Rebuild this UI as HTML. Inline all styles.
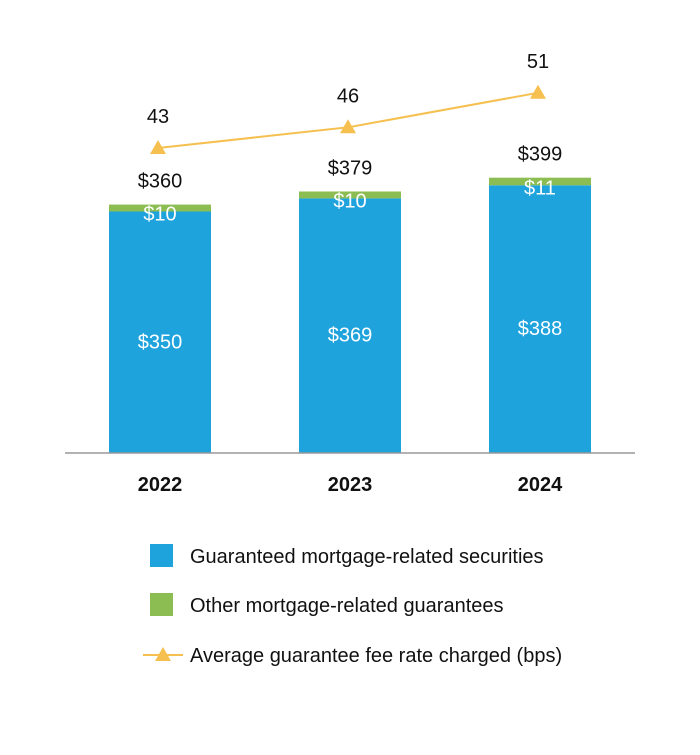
<!DOCTYPE html>
<html><head><meta charset="utf-8"><style>
html,body{margin:0;padding:0;background:#fff;}
svg text{font-family:"Liberation Sans Narrow","Liberation Sans",sans-serif;}
</style></head><body>
<svg id="chart" width="700" height="750" viewBox="0 0 700 750" xmlns="http://www.w3.org/2000/svg">
<g id="bars"></g>
<g id="line"></g>
<line x1="65" y1="453" x2="635" y2="453" stroke="#999" stroke-width="1.5"/>
<g id="xlabels"></g>
<g>
<g><rect x="150" y="544" width="23" height="23" fill="#1fa3dd"/><text x="190" y="563" font-size="20" fill="#111">Guaranteed mortgage-related securities</text></g>
<g><rect x="150" y="593" width="23" height="23" fill="#8bbd52"/><text x="190" y="612" font-size="20" fill="#111">Other mortgage-related guarantees</text></g>
<g><line x1="143" y1="655" x2="183" y2="655" stroke="#f5c04f" stroke-width="2"/><polygon points="163,647 171,661 155,661" fill="#f5c04f"/><text x="190" y="662" font-size="20" fill="#111">Average guarantee fee rate charged (bps)</text></g>
</g>
</svg>
<script>
const categories=["2022","2023","2024"];
const securities=[350,369,388];
const other=[10,10,11];
const totals=[360,379,399];
const feeRate=[43,46,51];
const NS="http://www.w3.org/2000/svg";
const base=453, k=0.69;
const xC=i=>160+i*190;
const yB=v=>base-v*k;
const yL=v=>148-(v-43)*6.9;
function mk(tag,attrs,parent,txt){const e=document.createElementNS(NS,tag);for(const a in attrs)e.setAttribute(a,attrs[a]);if(txt!==undefined)e.textContent=txt;parent.appendChild(e);return e;}
const bars=document.getElementById('bars'),line=document.getElementById('line'),xl=document.getElementById('xlabels');
categories.forEach((c,i)=>{
  const x=xC(i)-51;
  const b=mk('rect',{x:x,y:yB(securities[i]),width:102,height:securities[i]*k,fill:'#1fa3dd'},bars);
  
  
  const g=mk('rect',{x:x,y:yB(securities[i]+other[i]),width:102,height:other[i]*k,fill:'#8bbd52'},bars);
  
  
  const t1=mk('text',{x:xC(i),y:(yB(securities[i])+base)/2+16,'font-size':20,fill:'#fff','text-anchor':'middle'},bars,'$'+securities[i]);
  
  
  const t2=mk('text',{x:xC(i),y:yB(securities[i])+9,'font-size':20,fill:'#fff','text-anchor':'middle'},bars,'$'+other[i]);
  
  
  const t3=mk('text',{x:xC(i),y:yB(totals[i])-17,'font-size':20,fill:'#111','text-anchor':'middle'},bars,'$'+totals[i]);
  
  
  const t4=mk('text',{x:xC(i),y:491,'font-size':20,'font-weight':'bold',fill:'#111','text-anchor':'middle'},xl,c);
  
  
});
const pl=mk('polyline',{points:feeRate.map((v,i)=>xC(i)-2+','+yL(v)).join(' '),fill:'none',stroke:'#f5c04f','stroke-width':2},line);


feeRate.forEach((v,i)=>{
  const x=xC(i)-2,y=yL(v);
  const p=mk('polygon',{points:`${x},${y-8} ${x+8},${y+6} ${x-8},${y+6}`,fill:'#f5c04f'},line);
  
  
  const t=mk('text',{x:x,y:y-25,'font-size':20,fill:'#111','text-anchor':'middle'},line,String(v));
  
  
});
</script>
</body></html>
